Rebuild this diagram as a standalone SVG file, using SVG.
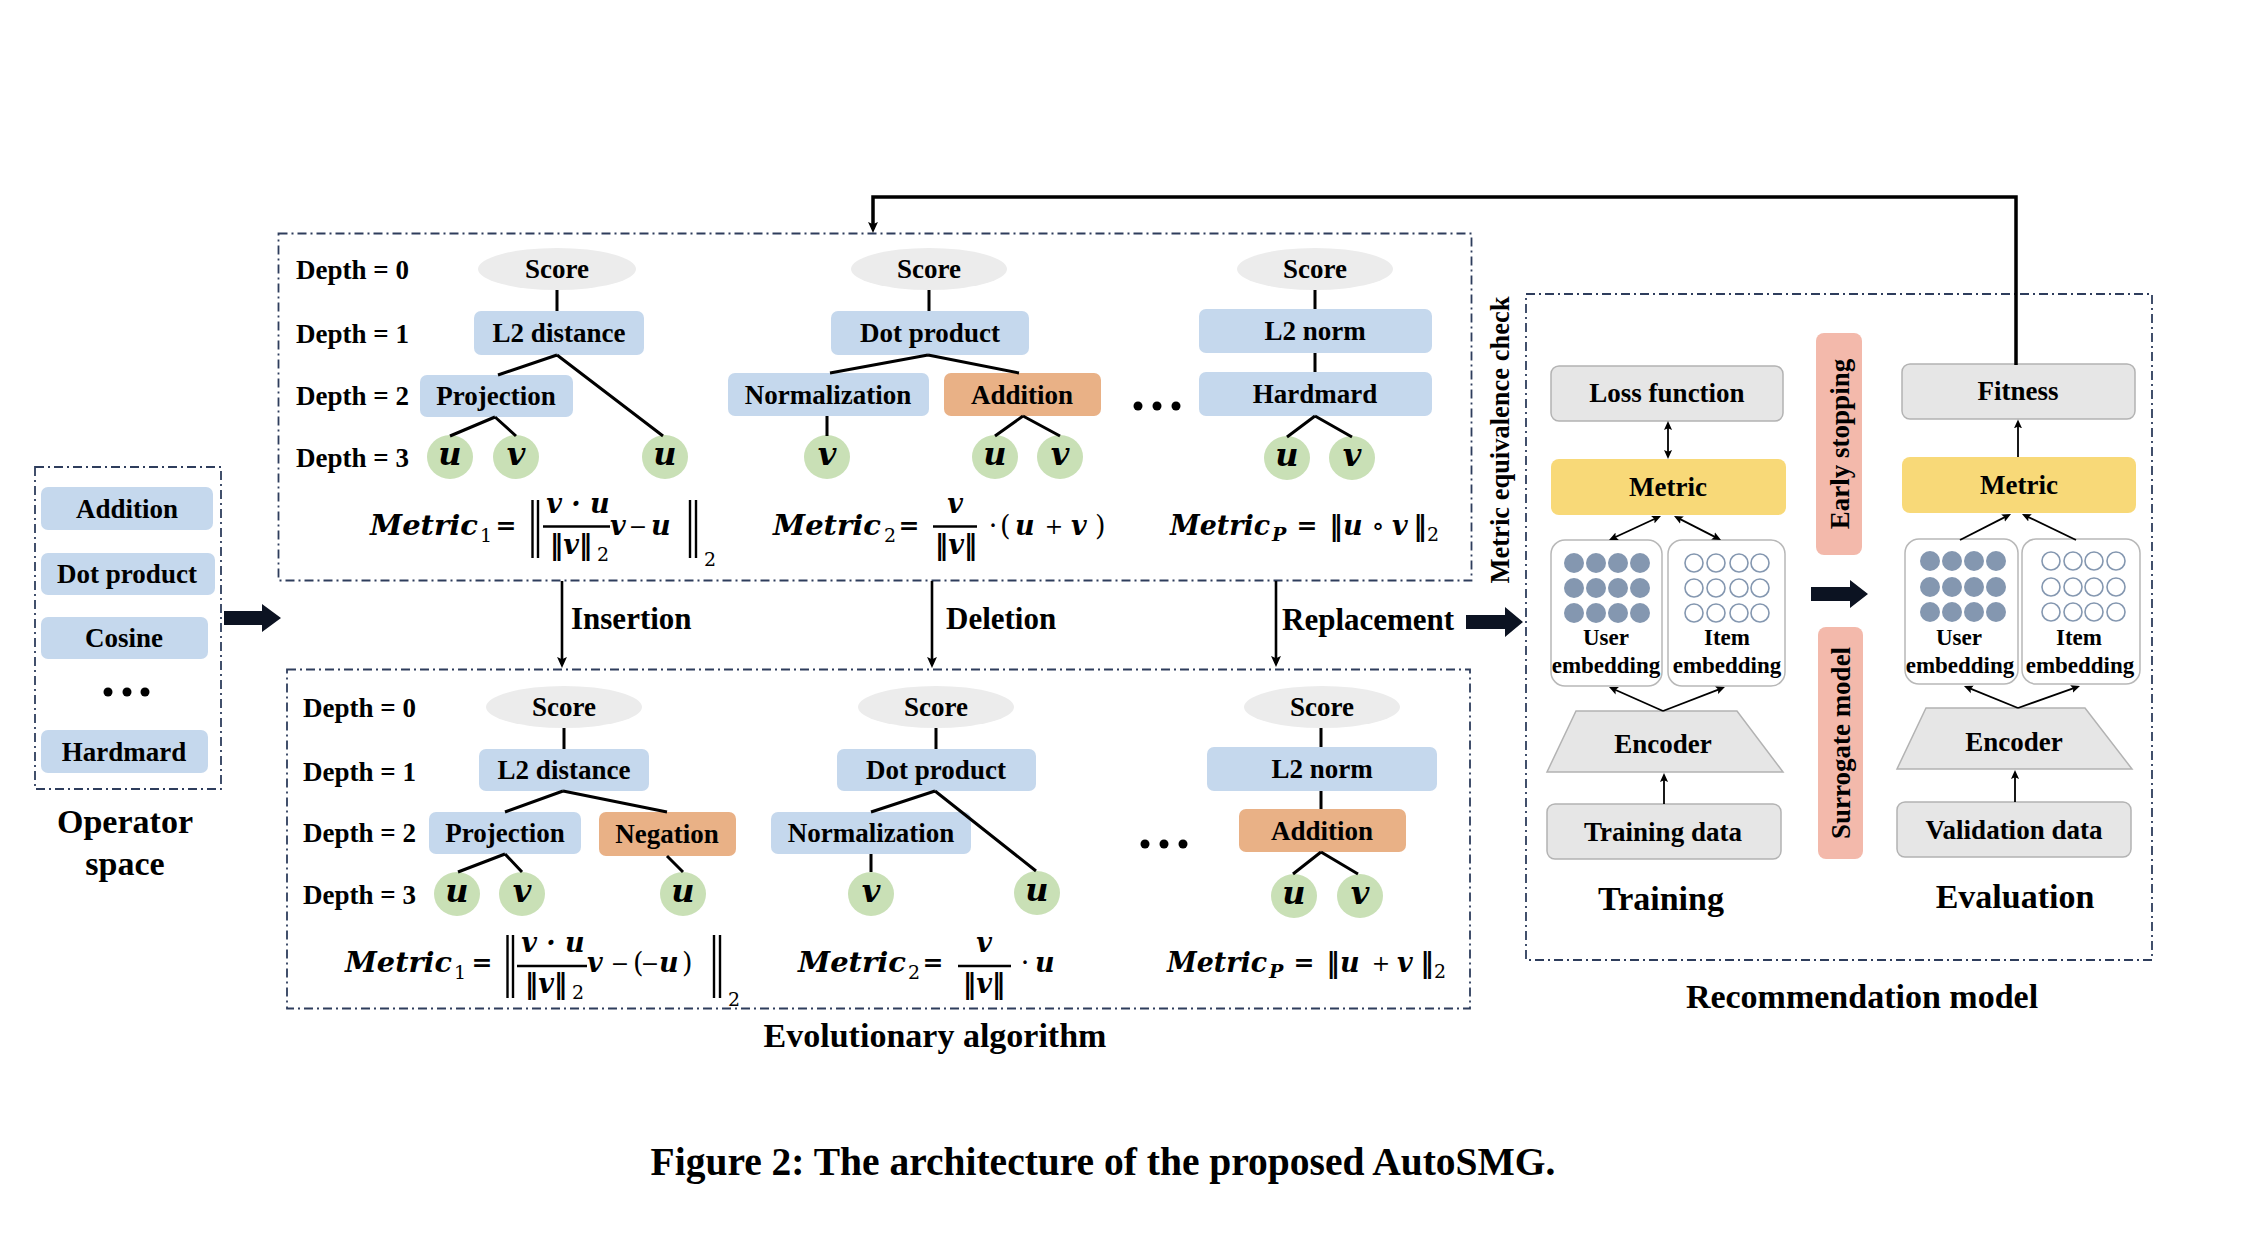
<svg xmlns="http://www.w3.org/2000/svg" width="2262" height="1234" viewBox="0 0 2262 1234">
<defs>
<style>
.t{font-family:"Liberation Serif","Times New Roman",serif;font-weight:bold;fill:#000}
.n{font-size:27px;text-anchor:middle}
.d{font-size:27px}
.b{font-size:34px;text-anchor:middle}
.op{font-size:31px}
.emt{font-size:23px;text-anchor:middle}
.m{font-family:"DejaVu Serif",serif;font-weight:bold;font-style:italic;font-size:27px;fill:#000}
.uv{font-family:"DejaVu Serif",serif;font-weight:bold;font-style:italic;font-size:32px;fill:#000;text-anchor:middle}
.mu{font-family:"DejaVu Serif",serif;font-weight:normal;font-style:normal;font-size:27px;fill:#000}
.eq{font-size:25px;text-anchor:middle;font-weight:bold}
.pm{font-size:22px;text-anchor:middle}
.s{font-size:19px}
.mid{text-anchor:middle}
.blue{fill:#c5d8ed}
.orange{fill:#e9b186}
.green{fill:#c9e0b6}
.score{fill:#ececec}
.gray{fill:#e6e6e6;stroke:#b3b3b3;stroke-width:1.5}
.yel{fill:#f8d978}
.pink{fill:#f3b9ab}
.emb{fill:#fff;stroke:#b8b8b8;stroke-width:1.5}
.dot{fill:#8497b0}
.hol{fill:none;stroke:#8497b0;stroke-width:1.6}
.dash{fill:none;stroke:#2e3d5c;stroke-width:1.8;stroke-dasharray:9 4 2 4}
.e{stroke:#000;stroke-width:3;fill:none}
.ar{stroke:#000;stroke-width:2.6;fill:none}
.fb{stroke:#000;stroke-width:3.5;fill:none}
.thin{stroke:#000;stroke-width:1.8;fill:none}
.fat{fill:#0c1322}
.bar{stroke:#000;stroke-width:2.4}
.blk{fill:#000}
</style>
<marker id="ah" viewBox="0 0 10 10" refX="6.4" refY="5" markerWidth="11" markerHeight="11" markerUnits="userSpaceOnUse" orient="auto-start-reverse"><path d="M0,0.5 L10,5 L0,9.5 L2,5 z" fill="#000"/></marker>
<marker id="sm" viewBox="0 0 10 10" refX="6" refY="5" markerWidth="9" markerHeight="9" markerUnits="userSpaceOnUse" orient="auto-start-reverse"><path d="M0,0.5 L10,5 L0,9.5 L2,5 z" fill="#000"/></marker>
</defs>
<rect width="2262" height="1234" fill="#fff"/>

<!-- dashed containers -->
<g id="containers">
<rect class="dash" x="278.5" y="233.5" width="1193" height="347"/>
<rect class="dash" x="287" y="669.5" width="1183" height="339"/>
<rect class="dash" x="35" y="467" width="186" height="322"/>
<rect class="dash" x="1526" y="294" width="626" height="666"/>
</g>

<!-- Operator space -->
<g id="op-addition"><rect class="blue" x="41" y="487" width="172" height="43" rx="7"/><text class="t n" x="127" y="518">Addition</text></g>
<g id="op-dot"><rect class="blue" x="41" y="553" width="174" height="42" rx="7"/><text class="t n" x="127" y="583">Dot product</text></g>
<g id="op-cosine"><rect class="blue" x="41" y="617" width="167" height="42" rx="7"/><text class="t n" x="124" y="647">Cosine</text></g>
<g id="op-dots"><circle class="blk" cx="108" cy="692" r="4.5"/><circle class="blk" cx="127" cy="692" r="4.5"/><circle class="blk" cx="145" cy="692" r="4.5"/></g>
<g id="op-hardmard"><rect class="blue" x="41" y="730" width="167" height="43" rx="7"/><text class="t n" x="124" y="761">Hardmard</text></g>
<g id="op-label"><text class="t b" x="125" y="833">Operator</text><text class="t b" x="125" y="875">space</text></g>

<!-- Depth labels -->
<g id="depth-top">
<text class="t d" x="296" y="279">Depth = 0</text>
<text class="t d" x="296" y="343">Depth = 1</text>
<text class="t d" x="296" y="405">Depth = 2</text>
<text class="t d" x="296" y="467">Depth = 3</text>
</g>
<g id="depth-bottom">
<text class="t d" x="303" y="717">Depth = 0</text>
<text class="t d" x="303" y="781">Depth = 1</text>
<text class="t d" x="303" y="842">Depth = 2</text>
<text class="t d" x="303" y="904">Depth = 3</text>
</g>

<!-- Top tree 1 -->
<g id="t1-score"><ellipse class="score" cx="557" cy="269" rx="79" ry="21"/><text class="t n" x="557" y="278">Score</text></g>
<g id="t1-l2"><rect class="blue" x="474" y="311" width="170" height="44" rx="7"/><text class="t n" x="559" y="342">L2 distance</text></g>
<g id="t1-proj"><rect class="blue" x="420" y="375" width="153" height="42" rx="7"/><text class="t n" x="496" y="405">Projection</text></g>
<g id="t1-u1"><ellipse class="green" cx="450" cy="457" rx="23" ry="22"/><text class="uv" x="450" y="465">u</text></g>
<g id="t1-v1"><ellipse class="green" cx="516" cy="457" rx="23" ry="22"/><text class="uv" x="516" y="465">v</text></g>
<g id="t1-u2"><ellipse class="green" cx="665" cy="457" rx="23" ry="22"/><text class="uv" x="665" y="465">u</text></g>

<!-- Top tree 2 -->
<g id="t2-score"><ellipse class="score" cx="929" cy="269" rx="78" ry="21"/><text class="t n" x="929" y="278">Score</text></g>
<g id="t2-dot"><rect class="blue" x="831" y="311" width="198" height="44" rx="7"/><text class="t n" x="930" y="342">Dot product</text></g>
<g id="t2-norm"><rect class="blue" x="728" y="373" width="201" height="43" rx="7"/><text class="t n" x="828" y="404">Normalization</text></g>
<g id="t2-add"><rect class="orange" x="944" y="373" width="157" height="43" rx="7"/><text class="t n" x="1022" y="404">Addition</text></g>
<g id="t2-v1"><ellipse class="green" cx="827" cy="457" rx="23" ry="22"/><text class="uv" x="827" y="465">v</text></g>
<g id="t2-u1"><ellipse class="green" cx="995" cy="457" rx="23" ry="22"/><text class="uv" x="995" y="465">u</text></g>
<g id="t2-v2"><ellipse class="green" cx="1060" cy="457" rx="23" ry="22"/><text class="uv" x="1060" y="465">v</text></g>
<g id="top-dots"><circle class="blk" cx="1138" cy="406" r="4.5"/><circle class="blk" cx="1157" cy="406" r="4.5"/><circle class="blk" cx="1176" cy="406" r="4.5"/></g>

<!-- Top tree 3 -->
<g id="t3-score"><ellipse class="score" cx="1315" cy="269" rx="78" ry="21"/><text class="t n" x="1315" y="278">Score</text></g>
<g id="t3-l2n"><rect class="blue" x="1199" y="309" width="233" height="44" rx="7"/><text class="t n" x="1315" y="340">L2 norm</text></g>
<g id="t3-hard"><rect class="blue" x="1199" y="372" width="233" height="44" rx="7"/><text class="t n" x="1315" y="403">Hardmard</text></g>
<g id="t3-u"><ellipse class="green" cx="1287" cy="458" rx="23" ry="22"/><text class="uv" x="1287" y="466">u</text></g>
<g id="t3-v"><ellipse class="green" cx="1352" cy="458" rx="23" ry="22"/><text class="uv" x="1352" y="466">v</text></g>

<!-- Top formulas -->
<g id="f-top-1">
<text class="m" x="370" y="535" textLength="108" lengthAdjust="spacingAndGlyphs">Metric</text>
<text class="mu s" x="480" y="542">1</text>
<text class="mu eq" x="506" y="534">=</text>
<line class="bar" x1="532.5" y1="500" x2="532.5" y2="558"/><line class="bar" x1="538" y1="500" x2="538" y2="558"/>
<text class="m mid" x="578" y="513">v · u</text>
<line class="bar" x1="543" y1="526.5" x2="610" y2="526.5"/>
<text class="m mid" x="571" y="554">‖v‖</text><text class="mu s" x="597" y="561">2</text>
<text class="m" x="610" y="535">v</text><text class="mu pm" x="638" y="534">−</text><text class="m" x="651" y="535">u</text>
<line class="bar" x1="690" y1="500" x2="690" y2="558"/><line class="bar" x1="696" y1="500" x2="696" y2="558"/>
<text class="mu s" x="704" y="566">2</text>
</g>
<g id="f-top-2">
<text class="m" x="773" y="535" textLength="108" lengthAdjust="spacingAndGlyphs">Metric</text>
<text class="mu s" x="884" y="542">2</text>
<text class="mu eq" x="909" y="534">=</text>
<text class="m mid" x="955" y="513">v</text>
<line class="bar" x1="933" y1="526.5" x2="977" y2="526.5"/>
<text class="m mid" x="956" y="554">‖v‖</text>
<text class="mu mid" x="993" y="535">·</text>
<text class="mu" x="1000" y="535">(</text><text class="m" x="1015" y="535">u</text><text class="mu pm" x="1054" y="534">+</text><text class="m" x="1071" y="535">v</text><text class="mu" x="1095" y="535">)</text>
</g>
<g id="f-top-p">
<text class="m" x="1170" y="535" textLength="100" lengthAdjust="spacingAndGlyphs">Metric</text>
<text class="m s" x="1272" y="541">P</text>
<text class="mu eq" x="1307" y="534">=</text>
<text class="m mid" x="1336" y="535">‖</text><text class="m" x="1343" y="535">u</text><text class="mu mid" x="1378" y="535">∘</text><text class="m" x="1392" y="535">v</text><text class="m mid" x="1420" y="535">‖</text>
<text class="mu s" x="1427" y="541">2</text>
</g>

<!-- Metric equivalence check -->
<g id="mec"><text class="t" font-size="26.5" text-anchor="middle" transform="translate(1500,440) rotate(-90)" x="0" y="9">Metric equivalence check</text></g>

<!-- Operation labels -->
<g id="op-labels">
<text class="t op" x="571" y="629">Insertion</text>
<text class="t op" x="946" y="629">Deletion</text>
<text class="t op" x="1282" y="630">Replacement</text>
</g>

<!-- Bottom tree 1 -->
<g id="b1-score"><ellipse class="score" cx="564" cy="707" rx="78" ry="21"/><text class="t n" x="564" y="716">Score</text></g>
<g id="b1-l2"><rect class="blue" x="479" y="749" width="170" height="42" rx="7"/><text class="t n" x="564" y="779">L2 distance</text></g>
<g id="b1-proj"><rect class="blue" x="429" y="812" width="152" height="42" rx="7"/><text class="t n" x="505" y="842">Projection</text></g>
<g id="b1-neg"><rect class="orange" x="599" y="812" width="137" height="44" rx="7"/><text class="t n" x="667" y="843">Negation</text></g>
<g id="b1-u1"><ellipse class="green" cx="457" cy="894" rx="23" ry="22"/><text class="uv" x="457" y="902">u</text></g>
<g id="b1-v1"><ellipse class="green" cx="522" cy="894" rx="23" ry="22"/><text class="uv" x="522" y="902">v</text></g>
<g id="b1-u2"><ellipse class="green" cx="683" cy="894" rx="23" ry="22"/><text class="uv" x="683" y="902">u</text></g>

<!-- Bottom tree 2 -->
<g id="b2-score"><ellipse class="score" cx="936" cy="707" rx="78" ry="21"/><text class="t n" x="936" y="716">Score</text></g>
<g id="b2-dot"><rect class="blue" x="837" y="749" width="199" height="42" rx="7"/><text class="t n" x="936" y="779">Dot product</text></g>
<g id="b2-norm"><rect class="blue" x="771" y="812" width="200" height="42" rx="7"/><text class="t n" x="871" y="842">Normalization</text></g>
<g id="b2-v"><ellipse class="green" cx="871" cy="894" rx="23" ry="22"/><text class="uv" x="871" y="902">v</text></g>
<g id="b2-u"><ellipse class="green" cx="1037" cy="893" rx="23" ry="22"/><text class="uv" x="1037" y="901">u</text></g>
<g id="bottom-dots"><circle class="blk" cx="1145" cy="844" r="4.5"/><circle class="blk" cx="1164" cy="844" r="4.5"/><circle class="blk" cx="1183" cy="844" r="4.5"/></g>

<!-- Bottom tree 3 -->
<g id="b3-score"><ellipse class="score" cx="1322" cy="707" rx="78" ry="21"/><text class="t n" x="1322" y="716">Score</text></g>
<g id="b3-l2n"><rect class="blue" x="1207" y="747" width="230" height="44" rx="7"/><text class="t n" x="1322" y="778">L2 norm</text></g>
<g id="b3-add"><rect class="orange" x="1239" y="809" width="167" height="43" rx="7"/><text class="t n" x="1322" y="840">Addition</text></g>
<g id="b3-u"><ellipse class="green" cx="1294" cy="896" rx="23" ry="22"/><text class="uv" x="1294" y="904">u</text></g>
<g id="b3-v"><ellipse class="green" cx="1360" cy="896" rx="23" ry="22"/><text class="uv" x="1360" y="904">v</text></g>

<!-- Bottom formulas -->
<g id="f-bot-1">
<text class="m" x="345" y="972" textLength="107" lengthAdjust="spacingAndGlyphs">Metric</text>
<text class="mu s" x="454" y="979">1</text>
<text class="mu eq" x="482" y="971">=</text>
<line class="bar" x1="507.5" y1="935" x2="507.5" y2="998"/><line class="bar" x1="513" y1="935" x2="513" y2="998"/>
<text class="m mid" x="553" y="952">v · u</text>
<line class="bar" x1="517" y1="966" x2="587" y2="966"/>
<text class="m mid" x="546" y="993">‖v‖</text><text class="mu s" x="572" y="999">2</text>
<text class="m" x="587" y="972">v</text><text class="mu pm" x="620" y="971">−</text><text class="mu" x="633" y="972">(</text><text class="mu pm" x="650" y="971">−</text><text class="m" x="659" y="972">u</text><text class="mu" x="682" y="972">)</text>
<line class="bar" x1="714" y1="935" x2="714" y2="998"/><line class="bar" x1="720" y1="935" x2="720" y2="998"/>
<text class="mu s" x="728" y="1006">2</text>
</g>
<g id="f-bot-2">
<text class="m" x="798" y="972" textLength="108" lengthAdjust="spacingAndGlyphs">Metric</text>
<text class="mu s" x="908" y="979">2</text>
<text class="mu eq" x="933" y="971">=</text>
<text class="m mid" x="984" y="952">v</text>
<line class="bar" x1="958" y1="966" x2="1011" y2="966"/>
<text class="m mid" x="984" y="993">‖v‖</text>
<text class="mu mid" x="1025" y="972">·</text>
<text class="m" x="1035" y="972">u</text>
</g>
<g id="f-bot-p">
<text class="m" x="1167" y="972" textLength="100" lengthAdjust="spacingAndGlyphs">Metric</text>
<text class="m s" x="1269" y="978">P</text>
<text class="mu eq" x="1304" y="971">=</text>
<text class="m mid" x="1333" y="972">‖</text><text class="m" x="1340" y="972">u</text><text class="mu pm" x="1381" y="971">+</text><text class="m" x="1397" y="972">v</text><text class="m mid" x="1427" y="972">‖</text>
<text class="mu s" x="1434" y="978">2</text>
</g>

<g id="ea-label"><text class="t b" x="935" y="1047">Evolutionary algorithm</text></g>

<!-- Recommendation model: training -->
<g id="loss"><rect class="gray" x="1551" y="366" width="232" height="55" rx="8"/><text class="t n" x="1667" y="402">Loss function</text></g>
<g id="metric-train"><rect class="yel" x="1551" y="459" width="235" height="56" rx="8"/><text class="t n" x="1668" y="496">Metric</text></g>
<g id="user-train">
<rect class="emb" x="1551" y="540" width="111" height="146" rx="14"/>
<circle class="dot" cx="1574" cy="563" r="10"/><circle class="dot" cx="1596" cy="563" r="10"/><circle class="dot" cx="1618" cy="563" r="10"/><circle class="dot" cx="1640" cy="563" r="10"/>
<circle class="dot" cx="1574" cy="588" r="10"/><circle class="dot" cx="1596" cy="588" r="10"/><circle class="dot" cx="1618" cy="588" r="10"/><circle class="dot" cx="1640" cy="588" r="10"/>
<circle class="dot" cx="1574" cy="613" r="10"/><circle class="dot" cx="1596" cy="613" r="10"/><circle class="dot" cx="1618" cy="613" r="10"/><circle class="dot" cx="1640" cy="613" r="10"/>
<text class="t emt" x="1606" y="645">User</text><text class="t emt" x="1606" y="673">embedding</text>
</g>
<g id="item-train">
<rect class="emb" x="1668" y="540" width="117" height="146" rx="14"/>
<circle class="hol" cx="1694" cy="563" r="9"/><circle class="hol" cx="1716" cy="563" r="9"/><circle class="hol" cx="1739" cy="563" r="9"/><circle class="hol" cx="1760" cy="563" r="9"/>
<circle class="hol" cx="1694" cy="588" r="9"/><circle class="hol" cx="1716" cy="588" r="9"/><circle class="hol" cx="1739" cy="588" r="9"/><circle class="hol" cx="1760" cy="588" r="9"/>
<circle class="hol" cx="1694" cy="613" r="9"/><circle class="hol" cx="1716" cy="613" r="9"/><circle class="hol" cx="1739" cy="613" r="9"/><circle class="hol" cx="1760" cy="613" r="9"/>
<text class="t emt" x="1727" y="645">Item</text><text class="t emt" x="1727" y="673">embedding</text>
</g>
<g id="encoder-train"><polygon class="gray" points="1576,711 1737,711 1783,772 1547,772"/><text class="t n" x="1663" y="753">Encoder</text></g>
<g id="train-data"><rect class="gray" x="1547" y="804" width="234" height="55" rx="8"/><text class="t n" x="1663" y="841" font-size="26">Training data</text></g>
<g id="train-label"><text class="t b" x="1661" y="910">Training</text></g>

<g id="early"><rect class="pink" x="1816" y="333" width="46" height="222" rx="8"/><text class="t" font-size="27" text-anchor="middle" transform="translate(1840,444) rotate(-90)" x="0" y="9">Early stopping</text></g>
<g id="surrogate"><rect class="pink" x="1818" y="627" width="45" height="232" rx="8"/><text class="t" font-size="27" text-anchor="middle" transform="translate(1841,743) rotate(-90)" x="0" y="9">Surrogate model</text></g>

<!-- Recommendation model: evaluation -->
<g id="fitness"><rect class="gray" x="1902" y="364" width="233" height="55" rx="8"/><text class="t n" x="2018" y="400">Fitness</text></g>
<g id="metric-eval"><rect class="yel" x="1902" y="457" width="234" height="56" rx="8"/><text class="t n" x="2019" y="494">Metric</text></g>
<g id="user-eval">
<rect class="emb" x="1905" y="539" width="113" height="145" rx="14"/>
<circle class="dot" cx="1930" cy="561" r="10"/><circle class="dot" cx="1952" cy="561" r="10"/><circle class="dot" cx="1974" cy="561" r="10"/><circle class="dot" cx="1996" cy="561" r="10"/>
<circle class="dot" cx="1930" cy="587" r="10"/><circle class="dot" cx="1952" cy="587" r="10"/><circle class="dot" cx="1974" cy="587" r="10"/><circle class="dot" cx="1996" cy="587" r="10"/>
<circle class="dot" cx="1930" cy="612" r="10"/><circle class="dot" cx="1952" cy="612" r="10"/><circle class="dot" cx="1974" cy="612" r="10"/><circle class="dot" cx="1996" cy="612" r="10"/>
<text class="t emt" x="1959" y="645">User</text><text class="t emt" x="1960" y="673">embedding</text>
</g>
<g id="item-eval">
<rect class="emb" x="2022" y="539" width="118" height="145" rx="14"/>
<circle class="hol" cx="2051" cy="561" r="9"/><circle class="hol" cx="2073" cy="561" r="9"/><circle class="hol" cx="2094" cy="561" r="9"/><circle class="hol" cx="2116" cy="561" r="9"/>
<circle class="hol" cx="2051" cy="587" r="9"/><circle class="hol" cx="2073" cy="587" r="9"/><circle class="hol" cx="2094" cy="587" r="9"/><circle class="hol" cx="2116" cy="587" r="9"/>
<circle class="hol" cx="2051" cy="612" r="9"/><circle class="hol" cx="2073" cy="612" r="9"/><circle class="hol" cx="2094" cy="612" r="9"/><circle class="hol" cx="2116" cy="612" r="9"/>
<text class="t emt" x="2079" y="645">Item</text><text class="t emt" x="2080" y="673">embedding</text>
</g>
<g id="encoder-eval"><polygon class="gray" points="1926,708 2085,708 2132,769 1897,769"/><text class="t n" x="2014" y="751">Encoder</text></g>
<g id="val-data"><rect class="gray" x="1897" y="802" width="234" height="55" rx="8"/><text class="t n" x="2014" y="839">Validation data</text></g>
<g id="eval-label"><text class="t b" x="2015" y="908">Evaluation</text></g>
<g id="rec-label"><text class="t b" x="1862" y="1008">Recommendation model</text></g>

<g id="caption"><text class="t" font-size="39.5" text-anchor="middle" x="1103" y="1175">Figure 2: The architecture of the proposed AutoSMG.</text></g>

<!-- Connectors -->
<g id="connectors">
<path class="e" d="M557,290 V311 M557,355 L498,375 M557,355 L663,436 M495,417 L450,436 M495,417 L516,436"/>
<path class="e" d="M929,290 V311 M928,355 L830,373 M928,355 L1019,373 M827,416 V436 M1023,416 L995,436 M1023,416 L1060,436"/>
<path class="e" d="M1315,290 V309 M1315,353 V372 M1315,416 L1287,437 M1315,416 L1352,437"/>
<path class="e" d="M564,728 V749 M563,791 L505,812 M563,791 L667,812 M505,854 L458,872 M505,854 L522,872 M667,856 L683,872"/>
<path class="e" d="M936,728 V749 M935,791 L871,812 M935,791 L1036,871 M871,854 V872"/>
<path class="e" d="M1321,728 V747 M1321,791 V809 M1321,852 L1293,874 M1321,852 L1358,874"/>
<path class="fb" d="M2016,365 V197 H873 V229" marker-end="url(#ah)"/>
<path class="ar" d="M562,581 V664" marker-end="url(#ah)"/>
<path class="ar" d="M932,581 V664" marker-end="url(#ah)"/>
<path class="ar" d="M1276,581 V663" marker-end="url(#ah)"/>
<path class="thin" d="M1668,424.6 V455.4" marker-start="url(#sm)" marker-end="url(#sm)"/>
<path class="thin" d="M2018,457 V423" marker-end="url(#sm)"/>
<path class="thin" d="M1657.7,517.5 L1612.3,538.5" marker-start="url(#sm)" marker-end="url(#sm)"/>
<path class="thin" d="M1677.2,517.6 L1717.8,538.4" marker-start="url(#sm)" marker-end="url(#sm)"/>
<path class="thin" d="M1960,540 L2007.8,515.6" marker-end="url(#sm)"/>
<path class="thin" d="M2076,540 L2025.2,515.6" marker-end="url(#sm)"/>
<path class="thin" d="M1663,711 L1612.3,688.5" marker-end="url(#sm)"/>
<path class="thin" d="M1663,711 L1721.6,688.3" marker-end="url(#sm)"/>
<path class="thin" d="M1664,804 V776.6" marker-end="url(#sm)"/>
<path class="thin" d="M2018,708 L1967.3,687.4" marker-end="url(#sm)"/>
<path class="thin" d="M2018,708 L2076.6,687.2" marker-end="url(#sm)"/>
<path class="thin" d="M2015,802 V773.6" marker-end="url(#sm)"/>
<polygon class="fat" points="224,611 262,611 262,604 281,618 262,632 262,625 224,625"/>
<polygon class="fat" points="1466,615 1505,615 1505,607 1523,622 1505,637 1505,629 1466,629"/>
<polygon class="fat" points="1811,587 1850,587 1850,580 1868,594 1850,608 1850,601 1811,601"/>
</g>
</svg>
